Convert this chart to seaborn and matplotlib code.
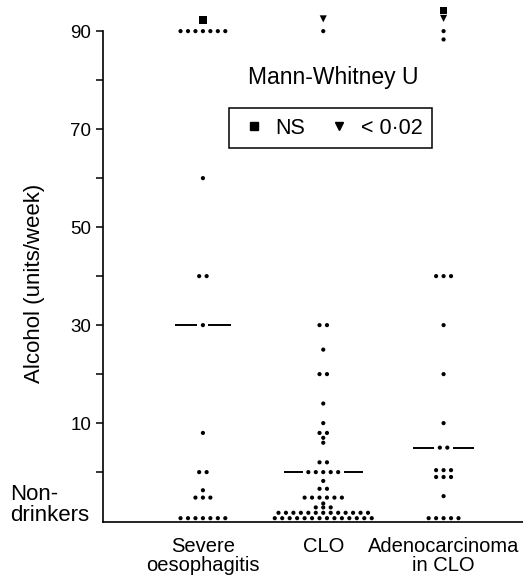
import numpy as np
import pandas as pd
import seaborn as sns
import matplotlib.pyplot as plt
from matplotlib.lines import Line2D

sns.set_style('ticks')
plt.rcParams['font.family'] = ['Liberation Sans', 'DejaVu Sans']
plt.rcParams['text.color'] = 'black'
plt.rcParams['xtick.color'] = 'black'
plt.rcParams['ytick.color'] = 'black'

# Groups and values (y in axis units, non-drinkers sit below 0)
groups = ['Severe\noesophagitis', 'CLO', 'Adenocarcinoma\nin CLO']
non_drinkers = -9.4

severe = [90] * 7 + [60] + [40] * 2 + [30] + [8] + [0] * 2 + [-3.7] + [-5.2] * 3 + [non_drinkers] * 7
clo = ([90, 30, 30, 25, 20, 20, 14, 10, 8, 8, 7, 6, 2, 2] + [0] * 5 + [-1.8] + [-3.4] * 2
       + [-5.2] * 6 + [-6.4] + [-7.2] * 3 + [-8.3] * 13 + [non_drinkers] * 14)
adeno = [90, 88.3, 40, 40, 40, 30, 20, 10, 5, 5] + [0.4] * 3 + [-1.0] * 3 + [-4.9] + [non_drinkers] * 5
medians = [30, 0, 5]

# Mann-Whitney U markers above the 90 line
ns_group = [0, 2]
ns_y = [92.3, 94.2]
sig_group = [1, 2]
sig_y = [92.5, 92.6]

step = 0.062          # horizontal spacing of dots in a row
median_half = [0.23, 0.33, 0.25]


def spread(values, pos):
    # lay out tied values side by side, centred on the group position
    s = pd.Series(values)
    rank = s.groupby(s).cumcount()
    count = s.groupby(s).transform('size')
    return pos + (rank - (count - 1) / 2) * step


frames = []
for i, vals in enumerate([severe, clo, adeno]):
    frames.append(pd.DataFrame({'group': groups[i], 'alcohol': vals, 'x': spread(vals, i)}))
df = pd.concat(frames, ignore_index=True)

fig = plt.figure(figsize=(5.23, 5.75), dpi=100)
ax = fig.add_axes([0.197, 0.092, 0.803, 0.905])

sns.scatterplot(data=df, x='x', y='alcohol', color='black', s=9, edgecolor='none',
                legend=False, ax=ax)
sns.scatterplot(x=ns_group, y=ns_y, marker='s', color='black', s=30, edgecolor='none',
                legend=False, ax=ax)
sns.scatterplot(x=sig_group, y=sig_y, marker='v', color='black', s=26, edgecolor='none',
                legend=False, ax=ax)

# median lines, broken where the dots of the median row sit
for i, vals in enumerate([severe, clo, adeno]):
    m = medians[i]
    n = int(np.sum(np.array(vals) == m))
    gap = (n - 1) / 2 * step + 0.045
    ax.hlines([m, m], [i - median_half[i], i + gap], [i - gap, i + median_half[i]],
              color='black', lw=1.4)

ax.set_xlim(-0.83, 2.66)
ax.set_ylim(-10.2, 96)
ax.set_xticks([0, 1, 2])
ax.set_xticklabels(groups, fontsize=14.5, linespacing=1.0)
ax.set_yticks([10, 30, 50, 70, 90])
ax.set_yticks([0, 20, 40, 60, 80], minor=True)
ax.tick_params(axis='y', which='both', length=5, width=1.1, labelsize=13.5)
ax.tick_params(axis='x', length=0, pad=11)
ax.set_xlabel('')
ax.set_ylabel('')
sns.despine(ax=ax)
ax.spines['left'].set_bounds(-10.2, 90)
for side in ['left', 'bottom']:
    ax.spines[side].set_linewidth(1.2)
    ax.spines[side].set_color('black')

fig.text(35 / 523, 1 - 283 / 575, 'Alcohol (units/week)', rotation=90,
         ha='center', va='center', fontsize=16)
fig.text(10 / 523, 1 - 484 / 575, 'Non-\ndrinkers', ha='left', va='top',
         fontsize=16, linespacing=1.0)

ax.text(0.547, 0.855, 'Mann-Whitney U', transform=ax.transAxes,
        ha='center', va='center', fontsize=16.5)
handles = [Line2D([], [], marker='s', color='black', ls='none', markersize=6),
           Line2D([], [], marker='v', color='black', ls='none', markersize=6)]
leg = ax.legend(handles, ['NS', '< 0·02'], ncol=2, loc='center',
                bbox_to_anchor=(0.542, 0.757), frameon=True, fancybox=False,
                edgecolor='black', framealpha=1, fontsize=15.5, handlelength=1.4,
                handletextpad=0.3, columnspacing=0.9, borderpad=0.45)
leg.get_frame().set_linewidth(1.1)

plt.savefig('out.png', dpi=100)
